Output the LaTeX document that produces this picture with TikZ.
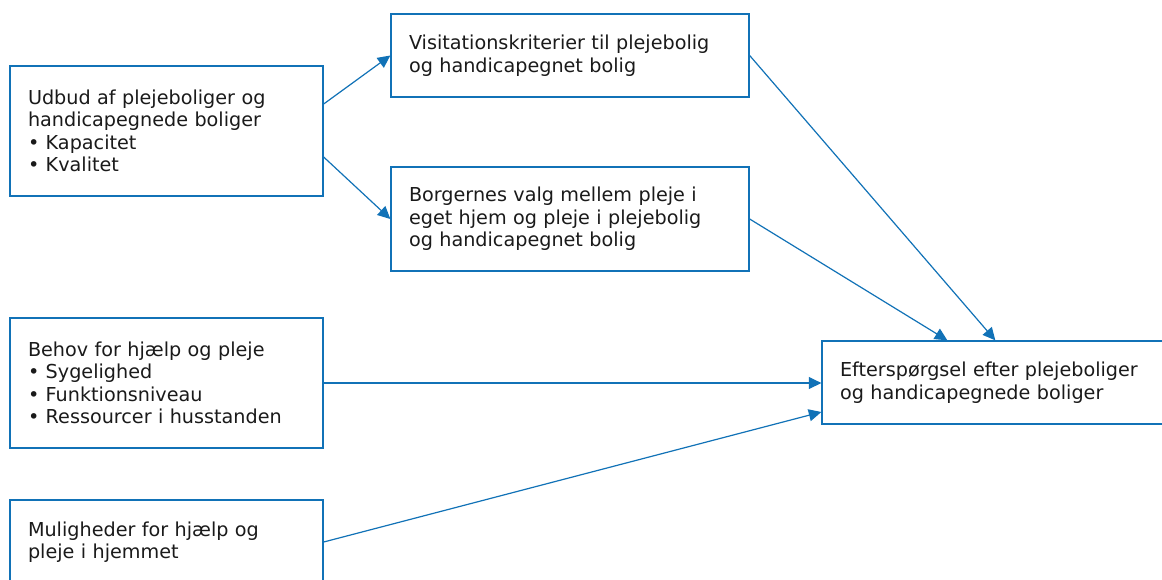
\documentclass[tikz,border=0pt]{standalone}
\usepackage{fontspec}
\setmainfont{DejaVu Sans}
\usetikzlibrary{arrows.meta,calc}
\definecolor{lineblue}{RGB}{17,114,183}
\definecolor{textc}{RGB}{26,26,26}
\tikzset{
  box/.style={draw=lineblue, line width=1pt, rectangle, align=left, inner xsep=13.5pt, inner ysep=0pt,
    text=textc, font=\fontsize{14.4}{16.9}\selectfont},
  arr/.style={draw=lineblue, line width=0.9pt, -{Triangle[length=9.4pt,width=9pt]}}
}
\begin{document}
\begin{tikzpicture}[x=0.75pt,y=-0.75pt]
\useasboundingbox (0,0) rectangle (1162,579);
\clip (0,0) rectangle (1162,579);
\fill[white] (0,0) rectangle (1162,579);
\node[box, text width=207.75pt, minimum height=97.5pt] (A) at (166.5,131)
  {Udbud af plejeboliger og\\handicapegnede boliger\\• Kapacitet\\• Kvalitet};
\node[box, text width=241.5pt, minimum height=62.25pt] (V) at (570,55.5)
  {Visitationskriterier til plejebolig\\og handicapegnet bolig};
\node[box, text width=241.5pt, minimum height=78pt] (B) at (570,219)
  {Borgernes valg mellem pleje i\\eget hjem og pleje i plejebolig\\og handicapegnet bolig};
\node[box, text width=207.75pt, minimum height=97.5pt] (H) at (166.5,383)
  {Behov for hjælp og pleje\\• Sygelighed\\• Funktionsniveau\\• Ressourcer i husstanden};
\node[box, text width=207.75pt, minimum height=63pt] (M) at (166.5,542)
  {Muligheder for hjælp og\\pleje i hjemmet};
\node[box, text width=243pt, minimum height=62.25pt] (E) at (1002,382.5)
  {Efterspørgsel efter plejeboliger\\og handicapegnede boliger};
\draw[arr] ($(A.east)+(0,-27)$) -- (V.west);
\draw[arr] ($(A.east)+(0,26)$) -- (B.west);
\draw[arr] (V.east) -- ($(E.north west)+(174,0)$);
\draw[arr] (B.east) -- ($(E.north west)+(126,0)$);
\draw[arr] (H.east) -- (H.east -| E.west);
\draw[arr] (M.east) -- ($(E.west)+(0,29.5)$);
\end{tikzpicture}
\end{document}
